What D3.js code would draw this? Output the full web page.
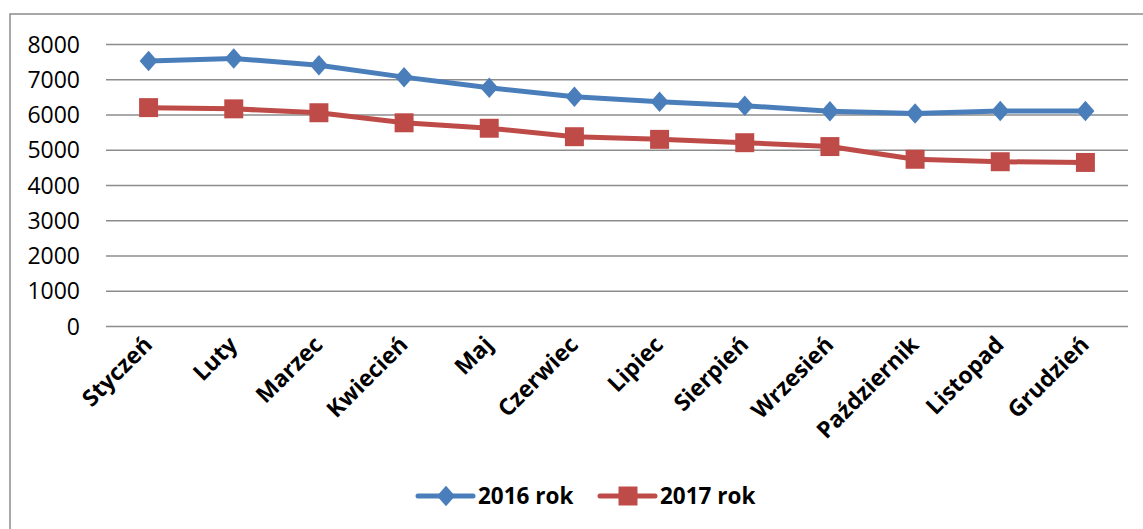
<!DOCTYPE html>
<html>
<head>
<meta charset="utf-8">
<script src="https://cdn.jsdelivr.net/npm/d3@7"></script>
<style>
  body { margin: 0; background: #fff; }
  text { font-family: "Open Sans", sans-serif; }
</style>
</head>
<body>
<div id="chart"></div>
<script>
// months and values
var months = ["Styczeń", "Luty", "Marzec", "Kwiecień", "Maj", "Czerwiec",
              "Lipiec", "Sierpień", "Wrzesień", "Październik", "Listopad", "Grudzień"];
var rok2016 = [7520, 7590, 7400, 7060, 6760, 6505, 6360, 6250, 6090, 6030, 6100, 6100];
var rok2017 = [6195, 6160, 6050, 5765, 5610, 5370, 5295, 5200, 5090, 4730, 4660, 4640];
var yTicks = [0, 1000, 2000, 3000, 4000, 5000, 6000, 7000, 8000];
var seriesNames = ["2016 rok", "2017 rok"];

var W = 1143, H = 529;
var svg = d3.select("#chart").append("svg")
    .attr("width", W)
    .attr("height", H);

// chart frame (runs off the right and bottom edge)
svg.append("rect")
    .attr("x", 10).attr("y", 14)
    .attr("width", W + 20).attr("height", H + 20)
    .attr("fill", "#fff")
    .attr("stroke", "#8c8c8c")
    .attr("stroke-width", 1.5);

var x = d3.scaleBand().domain(months).range([106, 1128]);
var y = d3.scaleLinear().domain([0, 8000]).range([326, 44]);

// y axis + grid
var yAxis = svg.append("g")
    .attr("transform", "translate(106,0)")
    .call(d3.axisLeft(y).tickValues(yTicks).tickFormat(d3.format("d"))
        .tickSize(-(1128 - 106)).tickPadding(26));
yAxis.select(".domain").remove();
yAxis.selectAll(".tick line").attr("stroke", "#8c8c8c").attr("stroke-width", 1.5);
yAxis.selectAll(".tick text")
    .attr("fill", "#000")
    .style("font-size", "23px")
    .attr("dy", "0.35em");

// x axis labels
var xAxis = svg.append("g")
    .attr("transform", "translate(0,326)")
    .call(d3.axisBottom(x).tickSize(0));
xAxis.select(".domain").remove();
xAxis.selectAll(".tick text")
    .attr("fill", "#000")
    .style("font-size", "23px")
    .style("font-weight", "bold")
    .attr("text-anchor", "end")
    .attr("dy", 0)
    .attr("transform", "translate(3,18) rotate(-45)");

var colors = ["#4a7ebb", "#be4b48"];
var data = [rok2016, rok2017];
var shapes = [d3.symbolDiamond2, d3.symbolSquare];
var sizes = [230, 360];
var markScale = ["scale(0.95,1.08)", ""];

var line = d3.line()
    .x(function(d, i) { return x(months[i]) + x.bandwidth() / 2; })
    .y(function(d) { return y(d); });

data.forEach(function(vals, s) {
    svg.append("path")
        .datum(vals)
        .attr("fill", "none")
        .attr("stroke", colors[s])
        .attr("stroke-width", 5)
        .attr("stroke-linejoin", "round")
        .attr("d", line);

    svg.selectAll(".m" + s)
        .data(vals)
        .enter().append("path")
        .attr("class", "m" + s)
        .attr("d", d3.symbol().type(shapes[s]).size(sizes[s]))
        .attr("fill", colors[s])
        .attr("transform", function(d, i) {
            return "translate(" + (x(months[i]) + x.bandwidth() / 2) + "," + y(d) + ") " + markScale[s];
        });
});

// legend
var legendX = [418, 600];
seriesNames.forEach(function(name, s) {
    var g = svg.append("g").attr("transform", "translate(" + legendX[s] + ",496)");
    g.append("line")
        .attr("x1", 0).attr("x2", 55)
        .attr("stroke", colors[s])
        .attr("stroke-width", 5)
        .attr("stroke-linecap", "round");
    g.append("path")
        .attr("d", d3.symbol().type(shapes[s]).size(sizes[s]))
        .attr("fill", colors[s])
        .attr("transform", "translate(28,0) " + markScale[s]);
    g.append("text")
        .attr("x", 60)
        .attr("dy", "0.36em")
        .style("font-size", "22.5px")
        .style("font-weight", "bold")
        .text(name);
});
</script>
</body>
</html>
